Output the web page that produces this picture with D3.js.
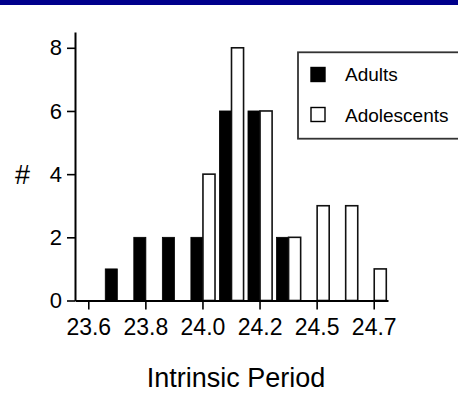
<!DOCTYPE html>
<html>
<head>
<meta charset="utf-8">
<script src="https://cdn.jsdelivr.net/npm/d3@7/dist/d3.min.js"></script>
<style>
  html, body { margin: 0; padding: 0; background: #fff; }
  svg { display: block; font-family: "Liberation Sans", Arial, sans-serif; }
</style>
</head>
<body>
<svg id="chart" width="458" height="393"></svg>
<script>
// Histogram bins of intrinsic circadian period (hours)
const bins = [0, 1, 2, 3, 4, 5, 6, 7, 8, 9, 10];
const binLabels = ["23.6", "", "23.8", "", "24.0", "", "24.2", "", "24.5", "", "24.7"];
const series = ["Adults", "Adolescents"];
const adults      = [0, 1, 2, 2, 2, 6, 6, 2, 0, 0, 0];
const adolescents = [0, 0, 0, 0, 4, 8, 6, 2, 3, 3, 1];
const yTicks = [0, 2, 4, 6, 8];

const svg = d3.select("#chart");
const font = "'Liberation Sans', Arial, sans-serif";

// header strip
svg.append("rect").attr("x", 0).attr("y", 0).attr("width", 458).attr("height", 5)
  .attr("fill", "#00008c");

const x = d3.scaleBand().domain(bins).range([75, 388])
  .paddingInner(0.155).paddingOuter(0.06);
const xs = d3.scaleBand().domain(series).range([0, x.bandwidth()]);
const y = d3.scaleLinear().domain([0, 8.5]).range([300.5, 32]);

const rows = bins.map((b, i) => ({ bin: b, values: [
  { key: "Adults", v: adults[i] },
  { key: "Adolescents", v: adolescents[i] }
]}));

const groups = svg.append("g").selectAll("g").data(rows).join("g")
  .attr("transform", d => `translate(${x(d.bin)},0)`);

groups.selectAll("rect").data(d => d.values.filter(e => e.v > 0)).join("rect")
  .attr("x", d => xs(d.key))
  .attr("y", d => y(d.v))
  .attr("width", xs.bandwidth())
  .attr("height", d => y(0) - y(d.v))
  .attr("fill", d => d.key === "Adults" ? "#000" : "#fff")
  .attr("stroke", d => d.key === "Adults" ? "#000" : "#111")
  .attr("stroke-width", d => d.key === "Adults" ? 0.8 : 1.6);

// axes
const xAxis = d3.axisBottom(x)
  .tickValues(bins.filter(b => binLabels[b] !== ""))
  .tickFormat(b => binLabels[b])
  .tickSize(9).tickSizeOuter(0).tickPadding(9);
const gx = svg.append("g").attr("transform", "translate(0,300.5)").call(xAxis);
gx.selectAll("text").attr("font-size", 23).attr("font-family", font).attr("fill", "#000");

const yAxis = d3.axisLeft(y).tickValues(yTicks).tickFormat(d3.format("d"))
  .tickSize(8).tickSizeOuter(0).tickPadding(5);
const gy = svg.append("g").attr("transform", "translate(75,0)").call(yAxis);
gy.selectAll("text").attr("font-size", 22).attr("font-family", font).attr("fill", "#000");

[gx, gy].forEach(g => {
  g.select(".domain").attr("stroke", "#000").attr("stroke-width", 2);
  g.selectAll(".tick line").attr("stroke", "#000").attr("stroke-width", 1.6);
});

// axis titles
svg.append("text").attr("x", 236).attr("y", 386.5).attr("text-anchor", "middle")
  .attr("font-size", 27).attr("font-family", font).text("Intrinsic Period");
svg.append("text").attr("x", 22.5).attr("y", 184).attr("text-anchor", "middle")
  .attr("font-size", 27).attr("font-family", font).text("#");

// legend
const lg = svg.append("g");
lg.append("rect").attr("x", 298).attr("y", 52.3).attr("width", 200).attr("height", 86.4)
  .attr("fill", "#fff").attr("stroke", "#333").attr("stroke-width", 1.8);
const legendRows = [
  { key: "Adults", fill: "#000", y: 67.5, ty: 80.5 },
  { key: "Adolescents", fill: "#fff", y: 107.5, ty: 122 }
];
lg.selectAll("rect.sw").data(legendRows).join("rect").attr("class", "sw")
  .attr("x", 311).attr("y", d => d.y).attr("width", 14).attr("height", 14)
  .attr("fill", d => d.fill).attr("stroke", "#000").attr("stroke-width", 1.4);
lg.selectAll("text").data(legendRows).join("text")
  .attr("x", 345).attr("y", d => d.ty)
  .attr("font-size", 19).attr("font-family", font).text(d => d.key);
</script>
</body>
</html>
